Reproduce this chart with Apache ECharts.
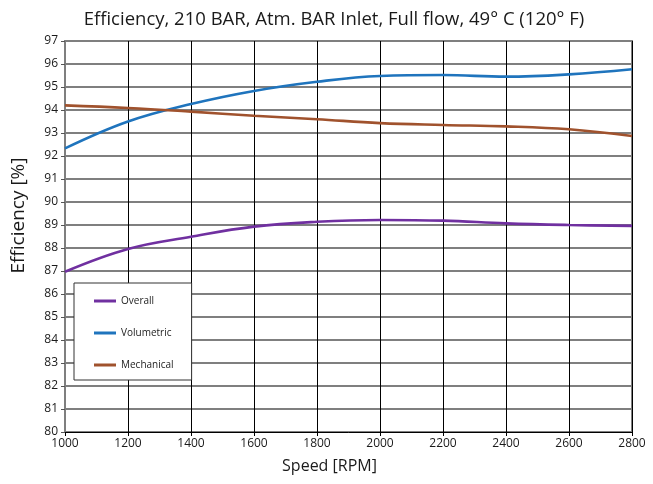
<!DOCTYPE html>
<html>
<head>
<meta charset="utf-8">
<script src="https://cdn.jsdelivr.net/npm/echarts@6/dist/echarts.min.js"></script>
<style>
  html, body { margin: 0; padding: 0; background: #fff; }
  #main { width: 653px; height: 484px; }
</style>
</head>
<body>
<div id="main"></div>
<script>
// speed in rpm, efficiencies in percent
var speeds = [1000, 1200, 1400, 1600, 1800, 2000, 2200, 2400, 2600, 2800];
var overall = [86.97, 87.96, 88.49, 88.93, 89.14, 89.22, 89.19, 89.07, 89.0, 88.96];
var volumetric = [92.33, 93.5, 94.26, 94.83, 95.23, 95.48, 95.52, 95.45, 95.55, 95.77];
var mechanical = [94.2, 94.09, 93.93, 93.75, 93.6, 93.43, 93.35, 93.29, 93.16, 92.87];

var FONT = '"Open Sans", "Noto Sans", sans-serif';

function pairs(vals) {
    var out = [];
    for (var i = 0; i < speeds.length; i++) out.push([speeds[i], vals[i]]);
    return out;
}

function line(name, vals, color) {
    return {
        name: name,
        type: 'line',
        smooth: 0.4,
        showSymbol: false,
        data: pairs(vals),
        lineStyle: { color: color, width: 2.6 },
        itemStyle: { color: color }
    };
}

var chart = echarts.init(document.getElementById('main'));
chart.setOption({
    backgroundColor: '#fff',
    animation: false,
    title: {
        text: 'Efficiency, 210 BAR, Atm. BAR Inlet, Full flow, 49° C (120° F)',
        left: 329, top: 5, textAlign: 'center',
        textStyle: { fontFamily: FONT, fontSize: 18.5, fontWeight: 'normal', color: '#1a1a1a' }
    },
    grid: {
        left: 65, right: 21, top: 41, bottom: 52,
        outerBoundsMode: 'none',
        show: true, borderColor: '#7f7f7f', borderWidth: 2
    },
    legend: {
        orient: 'vertical',
        left: 74, top: 283,
        padding: [13, 18, 10, 20],
        itemGap: 22,
        itemWidth: 22, itemHeight: 3,
        icon: 'rect',
        backgroundColor: '#fff',
        borderColor: '#333', borderWidth: 1,
        textStyle: { fontFamily: FONT, fontSize: 10, color: '#222' },
        data: ['Overall', 'Volumetric', 'Mechanical']
    },
    xAxis: {
        type: 'value', min: 1000, max: 2800, interval: 200,
        name: 'Speed [RPM]', nameLocation: 'middle', nameGap: 26,
        nameTextStyle: { fontFamily: FONT, fontSize: 16, color: '#1a1a1a', padding: [0, 38, 0, 0] },
        axisLine: { lineStyle: { color: '#000', width: 1 } },
        axisTick: { show: true, length: 4, lineStyle: { color: '#000' } },
        axisLabel: {
            fontFamily: FONT, fontSize: 12, color: '#1a1a1a', margin: 6,
            formatter: function (v) { return String(v); }
        },
        splitLine: { show: true, lineStyle: { color: '#000', width: 1 } }
    },
    yAxis: {
        type: 'value', min: 80, max: 97, interval: 1,
        name: 'Efficiency [%]', nameLocation: 'middle', nameGap: 37,
        nameTextStyle: { fontFamily: FONT, fontSize: 19, color: '#1a1a1a', padding: [0, 0, 0, 42] },
        axisLine: { show: true, lineStyle: { color: '#7f7f7f', width: 2 } },
        axisTick: { show: true, length: 4, lineStyle: { color: '#555' } },
        axisLabel: { fontFamily: FONT, fontSize: 12, color: '#1a1a1a', margin: 7 },
        splitLine: { show: true, lineStyle: { color: '#7f7f7f', width: 2 } }
    },
    series: [
        line('Overall', overall, '#7030a0'),
        line('Volumetric', volumetric, '#1f74bd'),
        line('Mechanical', mechanical, '#a0522d')
    ]
});
</script>
</body>
</html>
